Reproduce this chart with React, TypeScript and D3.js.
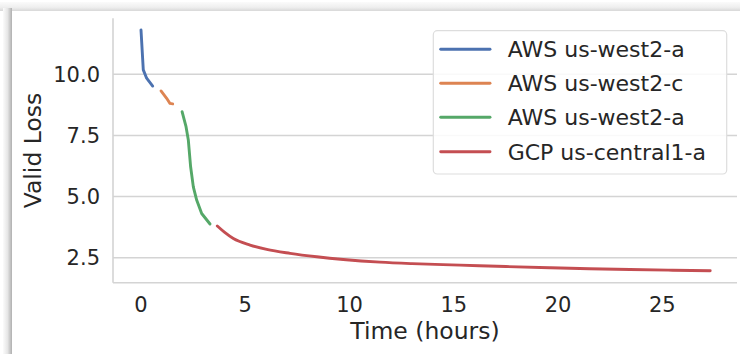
import React from "react";
import * as d3 from "d3";

const seriesNames = ["AWS us-west2-a", "AWS us-west2-c", "AWS us-west2-a", "GCP us-central1-a"];
const seriesColors = ["#4c72b0", "#dd8452", "#55a868", "#c44e52"];

const blueHours = [0, 0.11, 0.27, 0.56];
const blueLoss = [11.81, 10.18, 9.84, 9.52];
const orangeHours = [0.96, 1.23, 1.39, 1.52];
const orangeLoss = [9.32, 9.02, 8.81, 8.79];
const greenHours = [1.97, 2.16, 2.27, 2.38, 2.51, 2.67, 2.91, 3.31];
const greenLoss = [8.47, 7.86, 7.31, 6.22, 5.4, 4.86, 4.31, 3.88];
const redHours = [3.66, 4.0, 4.43, 5.23, 6.03, 7.15, 8.43, 9.7, 11.46, 13.0, 15.3, 17.5, 19.6, 21.5, 23.45, 25.5, 27.3];
const redLoss = [3.8, 3.55, 3.29, 3.02, 2.84, 2.68, 2.54, 2.43, 2.32, 2.26, 2.2, 2.14, 2.09, 2.05, 2.02, 1.99, 1.97];

const xTicks = [0, 5, 10, 15, 20, 25];
const yTicks = [2.5, 5.0, 7.5, 10.0];

const W = 740;
const H = 354;
const plotLeft = 113;
const plotRight = 737;
const plotTop = 18.3;
const plotBottom = 282.7;
const FONT = "DejaVu Sans, sans-serif";

export default function App() {
  const x = d3.scaleLinear().domain([-1.343, 28.585]).range([plotLeft, plotRight]);
  const y = d3.scaleLinear().domain([1.48, 12.29]).range([plotBottom, plotTop]);
  const straight = d3
    .line<[number, number]>()
    .x((d) => x(d[0]))
    .y((d) => y(d[1]))
    .curve(d3.curveLinear);
  const smooth = d3
    .line<[number, number]>()
    .x((d) => x(d[0]))
    .y((d) => y(d[1]))
    .curve(d3.curveMonotoneX);

  const series = [
    [blueHours, blueLoss],
    [orangeHours, orangeLoss],
    [greenHours, greenLoss],
    [redHours, redLoss],
  ].map(([hs, ls]) => hs.map((h, i) => [h, ls[i]] as [number, number]));

  const legX = 433.3;
  const legY = 30.7;
  const legW = 293.4;
  const legH = 143.3;
  const rowY = [49.3, 83.3, 117.3, 151.7];

  return (
    <svg
      width={W}
      height={H}
      style={{ position: "absolute", left: 0, top: 0, background: "#fff" }}
      fontFamily={FONT}
    >
      <defs>
        <linearGradient id="topShade" x1="0" y1="0" x2="0" y2="1">
          <stop offset="0" stopColor="#fbfbfb" />
          <stop offset="0.6" stopColor="#eeeeee" />
          <stop offset="1" stopColor="#d8d8d8" />
        </linearGradient>
        <linearGradient id="leftShade" x1="0" y1="0" x2="1" y2="0">
          <stop offset="0" stopColor="#fbfbfb" />
          <stop offset="0.5" stopColor="#e6e6e6" />
          <stop offset="1" stopColor="#b0b0b0" />
        </linearGradient>
      </defs>
      <rect x={0} y={0} width={W} height={H} fill="#ffffff" />
      <rect x={0} y={2} width={W} height={9} fill="url(#topShade)" />
      <rect x={3} y={8} width={9} height={H - 8} fill="url(#leftShade)" />

      {/* grid */}
      {yTicks.map((t) => (
        <line
          key={"gy" + t}
          x1={plotLeft}
          x2={plotRight}
          y1={y(t)}
          y2={y(t)}
          stroke="#d4d4d4"
          strokeWidth={1.5}
        />
      ))}
      {/* spines */}
      <line x1={plotLeft} x2={plotLeft} y1={plotTop} y2={plotBottom} stroke="#d4d4d4" strokeWidth={1.6} />
      <line x1={plotLeft} x2={plotRight} y1={plotBottom} y2={plotBottom} stroke="#d4d4d4" strokeWidth={1.6} />

      {/* tick labels */}
      {yTicks.map((t) => (
        <text
          key={"ty" + t}
          x={100}
          y={y(t)}
          dy="0.36em"
          textAnchor="end"
          fontSize={21}
          fill="#262626"
        >
          {d3.format(".1f")(t)}
        </text>
      ))}
      {xTicks.map((t) => (
        <text
          key={"tx" + t}
          x={x(t)}
          y={311.7}
          textAnchor="middle"
          fontSize={21}
          fill="#262626"
        >
          {t}
        </text>
      ))}

      {/* axis labels */}
      <text x={425} y={339} textAnchor="middle" fontSize={23.5} fill="#262626">
        Time (hours)
      </text>
      <text
        transform={`translate(41,${(plotTop + plotBottom) / 2}) rotate(-90)`}
        textAnchor="middle"
        fontSize={23.5}
        fill="#262626"
      >
        Valid Loss
      </text>

      {/* lines */}
      {series.map((s, i) => (
        <path
          key={"s" + i}
          d={(i === 3 ? smooth(s) : straight(s)) || ""}
          fill="none"
          stroke={seriesColors[i]}
          strokeWidth={2.9}
          strokeLinecap="round"
          strokeLinejoin="round"
        />
      ))}

      {/* legend */}
      <rect
        x={legX}
        y={legY}
        width={legW}
        height={legH}
        rx={4}
        fill="#ffffff"
        fillOpacity={0.85}
        stroke="#dddddd"
        strokeWidth={1.2}
      />
      {seriesNames.map((n, i) => (
        <g key={"l" + i}>
          <line
            x1={440.7}
            x2={490}
            y1={rowY[i]}
            y2={rowY[i]}
            stroke={seriesColors[i]}
            strokeWidth={2.9}
            strokeLinecap="round"
          />
          <text x={507.7} y={rowY[i]} dy="0.36em" fontSize={22} fill="#262626">
            {n}
          </text>
        </g>
      ))}
    </svg>
  );
}
